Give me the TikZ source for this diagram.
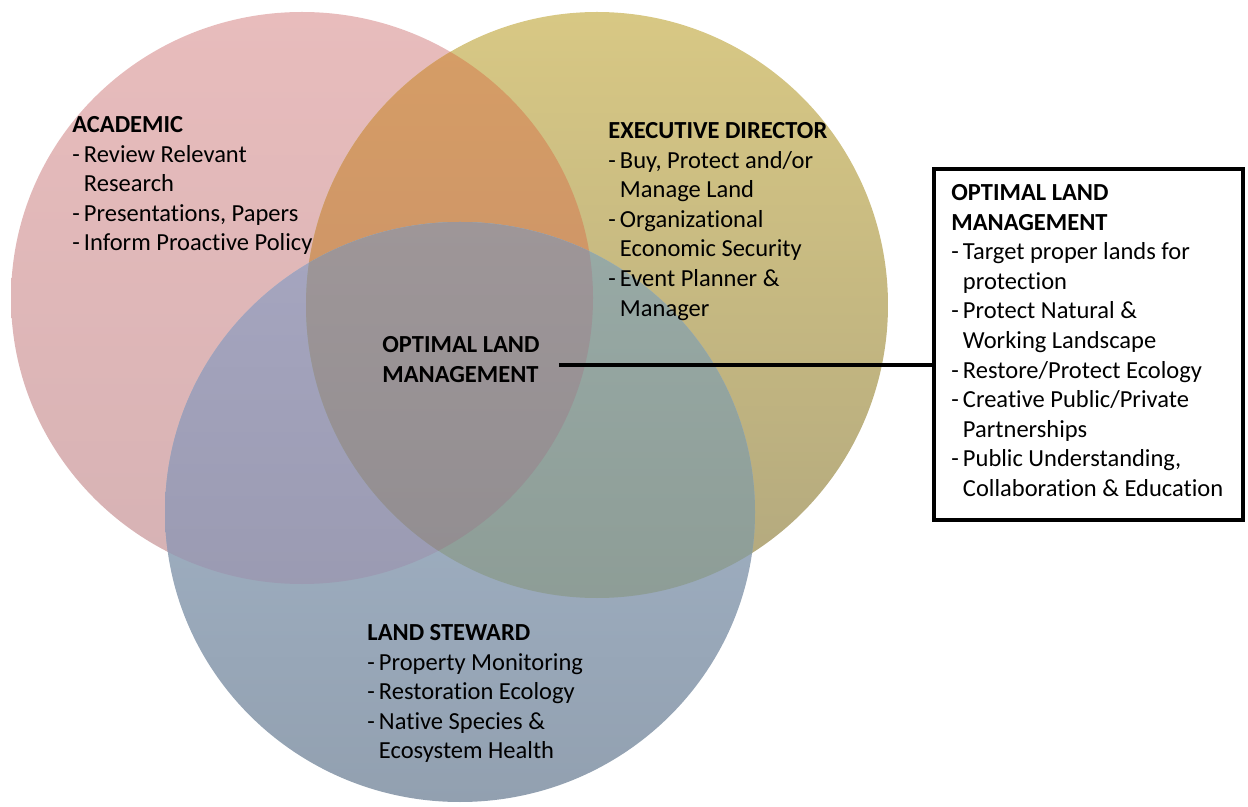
\documentclass[tikz,border=0pt]{standalone}
\usepackage{fontspec}
\setmainfont{Carlito}[Ligatures=NoCommon]
\usetikzlibrary{positioning}

\definecolor{pinkT}{RGB}{232,188,188}
\definecolor{pinkB}{RGB}{214,178,180}
\definecolor{yelT}{RGB}{216,200,132}
\definecolor{yelB}{RGB}{178,168,126}
\definecolor{oraT}{RGB}{214,158,102}
\definecolor{oraB}{RGB}{198,140,104}
\definecolor{bluT}{RGB}{168,186,206}
\definecolor{bluB}{RGB}{146,160,176}
\definecolor{purT}{RGB}{166,166,192}
\definecolor{purB}{RGB}{148,148,170}
\definecolor{grnT}{RGB}{152,170,166}
\definecolor{grnB}{RGB}{136,150,142}
\definecolor{gryT}{RGB}{158,150,152}
\definecolor{gryB}{RGB}{138,136,140}

\newcommand{\hang}{\hphantom{-\,}}

\begin{document}
\begin{tikzpicture}[x=0.5pt,y=-0.5pt,
  font=\fontsize{12.25}{14.8}\selectfont,
  academic/.style={insert path={(302,298) ellipse [x radius=291, y radius=286]}},
  director/.style={insert path={(597,305) ellipse [x radius=291, y radius=293]}},
  steward/.style={insert path={(460,512) ellipse [x radius=295, y radius=290]}},
  region/.style 2 args={top color=#1, bottom color=#2, draw=none},
  list/.style={anchor=north west, align=left, inner sep=0pt},
  link/.style={line width=2pt}]
    \useasboundingbox (0,0) rectangle (1248,807);
    % the three circles and their overlaps
    \path[academic, region={pinkT}{pinkB}];
    \path[director, region={yelT}{yelB}];
    \begin{scope}
      \clip[academic];
      \path[director, region={oraT}{oraB}];
    \end{scope}
    \path[steward, region={bluT}{bluB}];
    \begin{scope}
      \clip[academic];
      \path[steward, region={purT}{purB}];
    \end{scope}
    \begin{scope}
      \clip[director];
      \path[steward, region={grnT}{grnB}];
    \end{scope}
    \begin{scope}
      \clip[academic];
      \clip[director];
      \path[steward, region={gryT}{gryB}];
    \end{scope}
    %
    \node[list] (acad) at (72,116) {\textbf{ACADEMIC}\\
      -\,Review Relevant\\ \hang Research\\
      -\,Presentations, Papers\\
      -\,Inform Proactive Policy};
    \node[list] (exec) at (608,122) {\textbf{EXECUTIVE DIRECTOR}\\
      -\,Buy, Protect and/or\\ \hang Manage Land\\
      -\,Organizational\\ \hang Economic Security\\
      -\,Event Planner \&\\ \hang Manager};
    \node[list] (stew) at (367,624) {\textbf{LAND STEWARD}\\
      -\,Property Monitoring\\
      -\,Restoration Ecology\\
      -\,Native Species \&\\ \hang Ecosystem Health};
    \node[list] (olm) at (382,336) {\textbf{OPTIMAL LAND}\\ \textbf{MANAGEMENT}};
    %
    \node[draw, line width=2pt, anchor=north west, minimum width=154.5pt,
      minimum height=175.5pt] (olmbox) at (932,167) {};
    \node[list] (olmtext) at (951,184) {\textbf{OPTIMAL LAND}\\ \textbf{MANAGEMENT}\\
      -\,Target proper lands for\\ \hang protection\\
      -\,Protect Natural \&\\ \hang Working Landscape\\
      -\,Restore/Protect Ecology\\
      -\,Creative Public/Private\\ \hang Partnerships\\
      -\,Public Understanding,\\ \hang Collaboration \& Education};
    %
    \draw[link] ([xshift=9.5pt,yshift=-3pt]olm.east) -- ([yshift=-3pt]olm.east -| olmbox.west);
\end{tikzpicture}
\end{document}
